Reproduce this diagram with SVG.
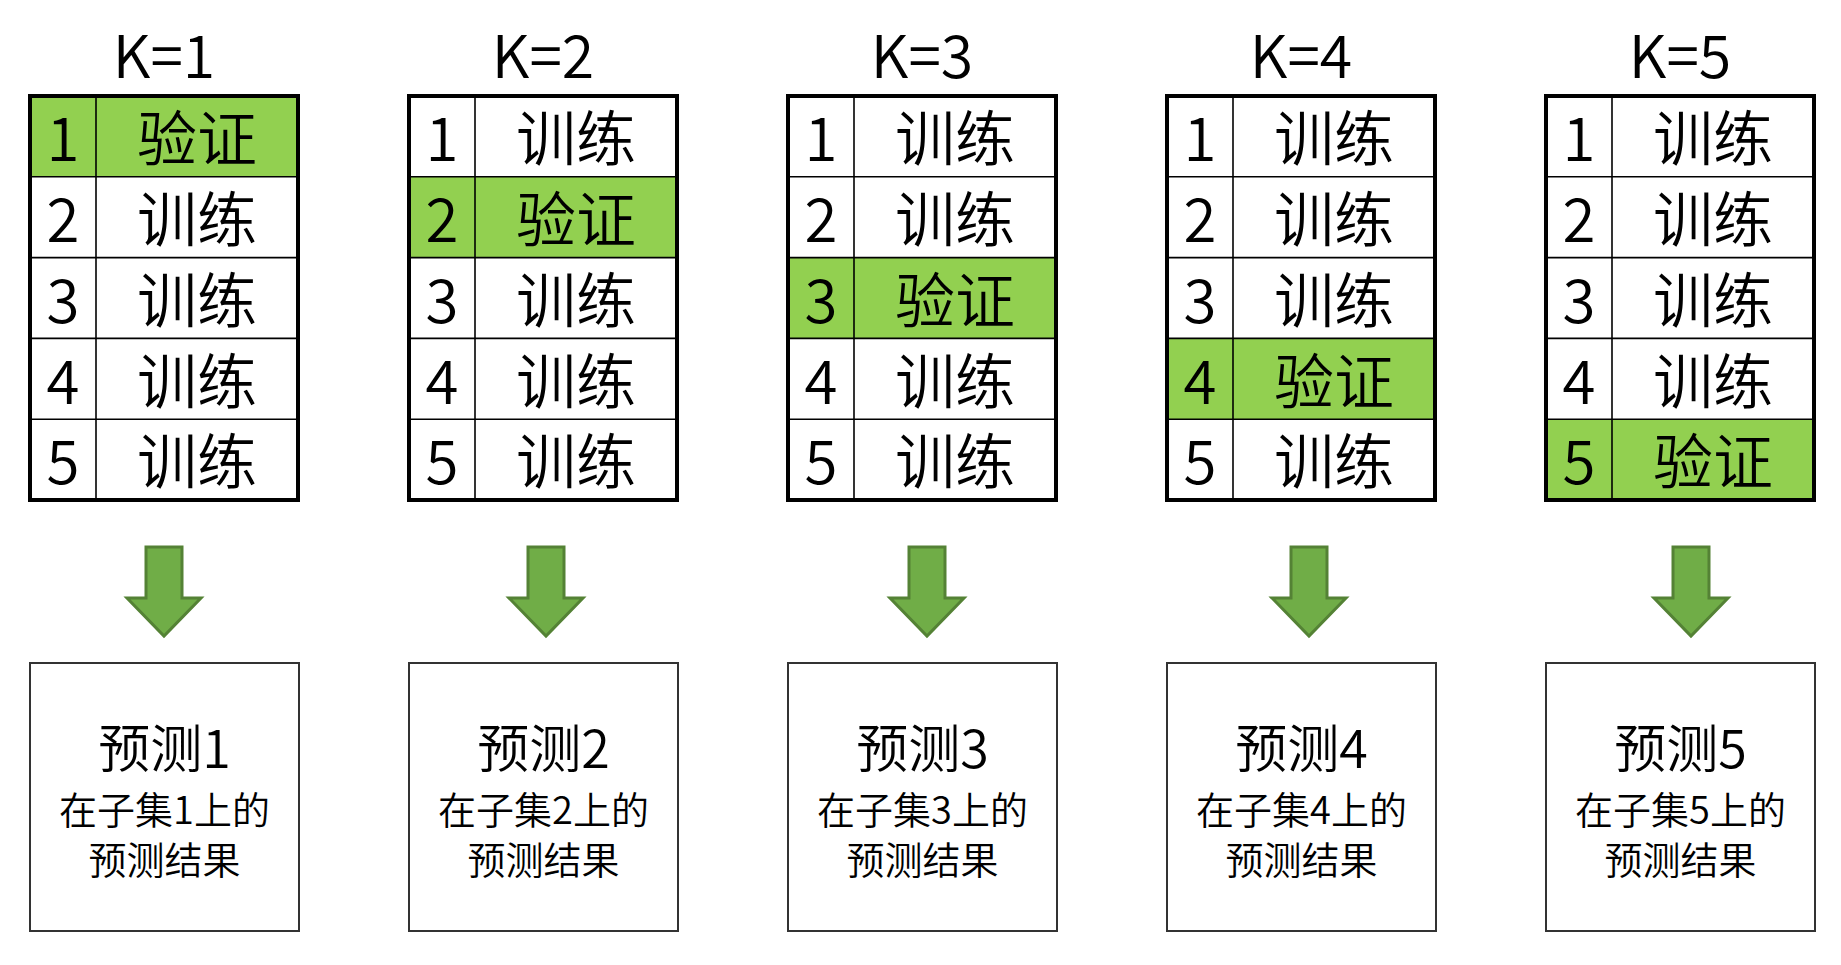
<svg xmlns="http://www.w3.org/2000/svg" width="1841" height="965" viewBox="0 0 1841 965">
<defs>
<style>
text{font-family:"Noto Sans CJK SC","Microsoft YaHei",sans-serif;fill:#000;text-anchor:middle;font-weight:350}
.k{font-size:59px}
.c{font-size:60px}
.t1{font-size:52px}
.t2{font-size:38px}
.outer{fill:none;stroke:#000;stroke-width:4}
.in{stroke:#000;stroke-width:1.6}
.hl{fill:#92D050}
.bg{fill:#fff}
.box{fill:#fff;stroke:#333;stroke-width:2}
.arr{fill:#70AD47;stroke:#548235;stroke-width:3;stroke-linejoin:miter}
</style>
<path id="arrow" class="arr" d="M-18,547 H18 V598 H37 L0,636 L-37,598 H-18 Z"/>
</defs>
<rect width="1841" height="965" fill="#fff"/>

<g id="connectors">
<use href="#arrow" x="164"/>
<use href="#arrow" x="546"/>
<use href="#arrow" x="927"/>
<use href="#arrow" x="1309"/>
<use href="#arrow" x="1691"/>
</g>

<g id="fold1" transform="translate(0,0)">
<text class="k" x="164" y="78">K=1</text>
<rect class="bg" x="30" y="96" width="268" height="404"/>
<rect class="hl" x="30" y="96" width="268" height="80.8"/>
<line class="in" x1="96" y1="96" x2="96" y2="500"/>
<line class="in" x1="30" y1="176.8" x2="298" y2="176.8"/>
<line class="in" x1="30" y1="257.6" x2="298" y2="257.6"/>
<line class="in" x1="30" y1="338.4" x2="298" y2="338.4"/>
<line class="in" x1="30" y1="419.2" x2="298" y2="419.2"/>
<rect class="outer" x="30" y="96" width="268" height="404"/>
<text class="c" x="63" y="161">1</text><text class="c" x="197" y="161">验证</text>
<text class="c" x="63" y="242">2</text><text class="c" x="197" y="242">训练</text>
<text class="c" x="63" y="323">3</text><text class="c" x="197" y="323">训练</text>
<text class="c" x="63" y="404">4</text><text class="c" x="197" y="404">训练</text>
<text class="c" x="63" y="484">5</text><text class="c" x="197" y="484">训练</text>
</g>

<g id="fold2" transform="translate(379,0)">
<text class="k" x="164" y="78">K=2</text>
<rect class="bg" x="30" y="96" width="268" height="404"/>
<rect class="hl" x="30" y="176.8" width="268" height="80.8"/>
<line class="in" x1="96" y1="96" x2="96" y2="500"/>
<line class="in" x1="30" y1="176.8" x2="298" y2="176.8"/>
<line class="in" x1="30" y1="257.6" x2="298" y2="257.6"/>
<line class="in" x1="30" y1="338.4" x2="298" y2="338.4"/>
<line class="in" x1="30" y1="419.2" x2="298" y2="419.2"/>
<rect class="outer" x="30" y="96" width="268" height="404"/>
<text class="c" x="63" y="161">1</text><text class="c" x="197" y="161">训练</text>
<text class="c" x="63" y="242">2</text><text class="c" x="197" y="242">验证</text>
<text class="c" x="63" y="323">3</text><text class="c" x="197" y="323">训练</text>
<text class="c" x="63" y="404">4</text><text class="c" x="197" y="404">训练</text>
<text class="c" x="63" y="484">5</text><text class="c" x="197" y="484">训练</text>
</g>

<g id="fold3" transform="translate(758,0)">
<text class="k" x="164" y="78">K=3</text>
<rect class="bg" x="30" y="96" width="268" height="404"/>
<rect class="hl" x="30" y="257.6" width="268" height="80.8"/>
<line class="in" x1="96" y1="96" x2="96" y2="500"/>
<line class="in" x1="30" y1="176.8" x2="298" y2="176.8"/>
<line class="in" x1="30" y1="257.6" x2="298" y2="257.6"/>
<line class="in" x1="30" y1="338.4" x2="298" y2="338.4"/>
<line class="in" x1="30" y1="419.2" x2="298" y2="419.2"/>
<rect class="outer" x="30" y="96" width="268" height="404"/>
<text class="c" x="63" y="161">1</text><text class="c" x="197" y="161">训练</text>
<text class="c" x="63" y="242">2</text><text class="c" x="197" y="242">训练</text>
<text class="c" x="63" y="323">3</text><text class="c" x="197" y="323">验证</text>
<text class="c" x="63" y="404">4</text><text class="c" x="197" y="404">训练</text>
<text class="c" x="63" y="484">5</text><text class="c" x="197" y="484">训练</text>
</g>

<g id="fold4" transform="translate(1137,0)">
<text class="k" x="164" y="78">K=4</text>
<rect class="bg" x="30" y="96" width="268" height="404"/>
<rect class="hl" x="30" y="338.4" width="268" height="80.8"/>
<line class="in" x1="96" y1="96" x2="96" y2="500"/>
<line class="in" x1="30" y1="176.8" x2="298" y2="176.8"/>
<line class="in" x1="30" y1="257.6" x2="298" y2="257.6"/>
<line class="in" x1="30" y1="338.4" x2="298" y2="338.4"/>
<line class="in" x1="30" y1="419.2" x2="298" y2="419.2"/>
<rect class="outer" x="30" y="96" width="268" height="404"/>
<text class="c" x="63" y="161">1</text><text class="c" x="197" y="161">训练</text>
<text class="c" x="63" y="242">2</text><text class="c" x="197" y="242">训练</text>
<text class="c" x="63" y="323">3</text><text class="c" x="197" y="323">训练</text>
<text class="c" x="63" y="404">4</text><text class="c" x="197" y="404">验证</text>
<text class="c" x="63" y="484">5</text><text class="c" x="197" y="484">训练</text>
</g>

<g id="fold5" transform="translate(1516,0)">
<text class="k" x="164" y="78">K=5</text>
<rect class="bg" x="30" y="96" width="268" height="404"/>
<rect class="hl" x="30" y="419.2" width="268" height="80.8"/>
<line class="in" x1="96" y1="96" x2="96" y2="500"/>
<line class="in" x1="30" y1="176.8" x2="298" y2="176.8"/>
<line class="in" x1="30" y1="257.6" x2="298" y2="257.6"/>
<line class="in" x1="30" y1="338.4" x2="298" y2="338.4"/>
<line class="in" x1="30" y1="419.2" x2="298" y2="419.2"/>
<rect class="outer" x="30" y="96" width="268" height="404"/>
<text class="c" x="63" y="161">1</text><text class="c" x="197" y="161">训练</text>
<text class="c" x="63" y="242">2</text><text class="c" x="197" y="242">训练</text>
<text class="c" x="63" y="323">3</text><text class="c" x="197" y="323">训练</text>
<text class="c" x="63" y="404">4</text><text class="c" x="197" y="404">训练</text>
<text class="c" x="63" y="484">5</text><text class="c" x="197" y="484">验证</text>
</g>

<g id="pred1" transform="translate(0,0)">
<rect class="box" x="30" y="663" width="269" height="268"/>
<text class="t1" x="164.5" y="768">预测1</text>
<text class="t2" x="164.5" y="824">在子集1上的</text>
<text class="t2" x="164.5" y="874">预测结果</text>
</g>
<g id="pred2" transform="translate(379,0)">
<rect class="box" x="30" y="663" width="269" height="268"/>
<text class="t1" x="164.5" y="768">预测2</text>
<text class="t2" x="164.5" y="824">在子集2上的</text>
<text class="t2" x="164.5" y="874">预测结果</text>
</g>
<g id="pred3" transform="translate(758,0)">
<rect class="box" x="30" y="663" width="269" height="268"/>
<text class="t1" x="164.5" y="768">预测3</text>
<text class="t2" x="164.5" y="824">在子集3上的</text>
<text class="t2" x="164.5" y="874">预测结果</text>
</g>
<g id="pred4" transform="translate(1137,0)">
<rect class="box" x="30" y="663" width="269" height="268"/>
<text class="t1" x="164.5" y="768">预测4</text>
<text class="t2" x="164.5" y="824">在子集4上的</text>
<text class="t2" x="164.5" y="874">预测结果</text>
</g>
<g id="pred5" transform="translate(1516,0)">
<rect class="box" x="30" y="663" width="269" height="268"/>
<text class="t1" x="164.5" y="768">预测5</text>
<text class="t2" x="164.5" y="824">在子集5上的</text>
<text class="t2" x="164.5" y="874">预测结果</text>
</g>
</svg>
